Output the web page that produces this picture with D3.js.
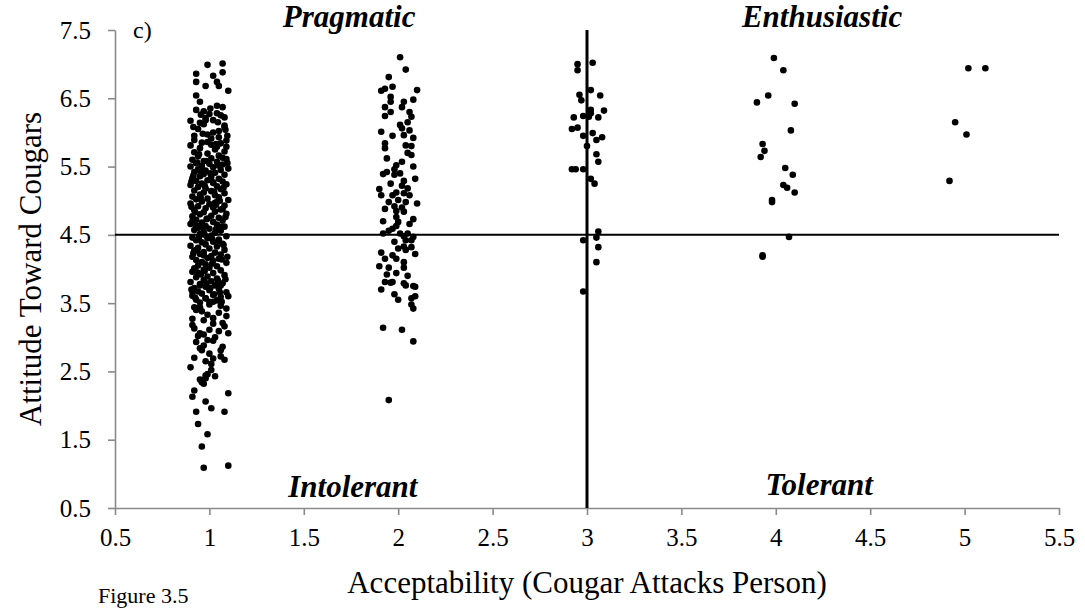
<!DOCTYPE html>
<html>
<head>
<meta charset="utf-8">
<script src="https://cdn.jsdelivr.net/npm/d3@7"></script>
<style>
  body { margin: 0; background: #fff; }
  text { font-family: "Liberation Serif", "Times New Roman", serif; fill: #000; }
</style>
</head>
<body>
<svg id="chart" width="1085" height="608"></svg>
<script>
// acceptability = 1 (jittered), attitude
const group1 = [
  [0.99,6.99],[1.07,7.01],[0.93,6.86],[1.02,6.83],[1.07,6.88],[0.93,6.74],[0.98,6.68],[1.04,6.74],
  [1.05,6.68],[1.10,6.61],[0.93,6.54],[0.95,6.45],[1.04,6.39],[1.07,6.37],[0.93,6.33],[0.97,6.31],
  [1.00,6.27],[1.06,6.25],[0.90,6.17],[0.95,6.14],[0.98,6.18],[1.02,6.18],[1.08,6.22],[0.92,5.95],
  [1.01,5.91],[1.05,6.02],[1.08,6.08],[0.90,5.81],[0.99,5.86],[1.06,5.84],[1.09,5.79],[1.04,5.79],
  [0.97,6.12],[1.08,6.10],[0.94,6.05],[1.02,6.00],[0.99,5.97],[1.05,5.93],[0.92,5.89],[1.09,5.88],
  [0.96,5.85],[1.01,5.82],[0.98,6.21],[1.04,6.28],
  [0.95,5.77],[1.03,5.75],[0.92,5.71],[1.08,5.72],[0.99,5.69],[1.05,5.66],[0.94,5.65],[1.01,5.62],
  [0.91,5.60],[1.09,5.61],[0.97,5.58],[1.04,5.57],[0.93,5.55],[1.07,5.53],[1.00,5.54],[0.96,5.51],
  [0.90,5.50],[1.02,5.49],[1.10,5.47],[0.94,5.46],[0.98,5.44],[1.06,5.45],[0.92,5.42],[1.03,5.41],
  [0.97,5.39],[1.08,5.38],[0.95,5.36],[1.01,5.35],[0.91,5.33],[1.05,5.32],[0.99,5.30],[0.93,5.29],
  [1.07,5.28],[1.02,5.26],[0.96,5.25],[0.90,5.23],[1.09,5.24],[1.04,5.21],[0.94,5.20],[0.98,5.18],
  [1.06,5.17],[0.92,5.15],[1.01,5.14],[0.97,5.12],[1.08,5.11],[0.95,5.09],[1.03,5.08],[0.91,5.06],
  [1.05,5.05],[0.99,5.03],[0.93,5.02],[1.10,5.01],[1.02,5.27],[0.95,5.44],[1.07,5.63],
  [0.96,4.99],[1.04,4.98],[0.90,4.96],[1.00,4.95],[1.08,4.93],[0.94,4.92],[1.02,4.90],[0.98,4.89],
  [1.06,4.87],[0.92,4.86],[1.03,4.84],[0.97,4.83],[1.09,4.81],[0.95,4.80],[1.01,4.78],[0.91,4.77],
  [1.05,4.75],[0.99,4.74],[0.93,4.72],[1.07,4.71],[1.02,4.69],[0.96,4.68],[0.90,4.66],[1.04,4.65],
  [0.98,4.63],[1.08,4.62],[0.94,4.60],[1.00,4.59],[0.92,4.57],[1.06,4.56],[0.97,4.54],[1.03,4.53],
  [0.95,4.51],[1.01,4.49],[1.09,4.48],[0.91,4.46],[0.99,4.45],[1.05,4.43],[0.93,4.42],[1.02,4.40],
  [0.96,4.39],[1.07,4.37],[0.98,4.36],[0.90,4.34],[1.04,4.33],[0.94,4.31],[1.00,4.30],[1.08,4.28],
  [0.92,4.27],[0.97,4.25],[1.03,4.24],[0.95,4.22],[1.06,4.21],[1.01,4.19],[0.91,4.18],[0.99,4.16],
  [1.05,4.15],[0.93,4.13],[1.02,4.12],[0.96,4.10],[1.09,4.09],[0.98,4.07],[0.94,4.05],[1.04,4.04],
  [1.00,4.02],[0.92,4.01],[1.07,4.88],[0.93,4.64],[1.05,4.41],[0.97,4.20],[1.03,4.97],[0.91,4.70],
  [0.97,3.99],[1.06,3.98],[0.91,3.96],[1.02,3.94],[0.95,3.93],[1.08,3.91],[0.99,3.89],[0.93,3.88],
  [1.04,3.86],[0.97,3.84],[1.01,3.82],[0.90,3.81],[1.07,3.79],[0.95,3.78],[1.03,3.76],[0.98,3.74],
  [0.92,3.72],[1.05,3.71],[1.00,3.69],[0.94,3.67],[1.09,3.66],[0.96,3.64],[1.02,3.62],[0.91,3.61],
  [1.06,3.59],[0.98,3.57],[0.93,3.55],[1.04,3.54],[1.00,3.52],[0.95,3.51],
  [0.95,3.76],[1.06,3.76],[0.91,3.67],[1.10,3.60],[0.98,3.57],[1.02,3.52],[0.92,3.44],[1.06,3.46],
  [0.95,3.44],[0.91,3.27],[0.97,3.25],[1.02,3.20],[1.09,3.31],[1.07,3.21],[0.92,3.13],[1.00,3.11],
  [1.10,3.06],[0.95,3.06],[0.93,2.93],[0.99,2.96],[1.02,2.95],[0.96,2.81],[1.00,2.76],[1.06,2.81],
  [1.08,2.67],[0.98,2.65],[1.01,2.61],[0.90,2.56],[0.98,2.44],[0.96,2.37],[1.03,2.43],[0.97,2.32],
  [0.93,3.40],[1.05,3.36],[0.99,3.33],[1.08,3.16],[0.94,3.02],[1.03,3.00],[0.97,2.88],[1.06,2.72],
  [0.92,2.70],[1.01,2.52],[0.98,2.40],[0.96,2.34],[1.00,3.48],[1.09,3.42],[0.96,3.38],[1.02,3.28],
  [0.91,3.18],[1.05,3.09],[0.97,3.04],[1.07,2.86],[0.95,2.84],[1.02,2.69],[0.99,2.46],[0.95,2.38],
  [0.91,2.13],[0.92,2.22],[0.98,2.06],[1.10,2.18],[0.93,1.91],[1.01,1.96],[1.08,1.91],[0.94,1.73],
  [0.99,1.58],[0.96,1.40],[0.97,1.09],[1.10,1.12],
  [0.985,5.58],[1.045,5.52],[0.915,5.37],[1.075,5.19],[0.955,5.04],[1.035,4.94],[0.925,4.83],[1.085,4.76],
  [0.965,4.61],[1.015,4.44],[0.935,4.29],[1.065,4.14],[0.975,3.97],[1.045,3.83],[0.905,3.70],[1.025,3.63],
  [0.945,5.68],[1.095,5.55],[1.005,5.40],[0.975,5.22],[1.055,5.00],[0.905,4.91],[0.985,4.73],[1.035,4.58],
  [0.945,4.47],[1.075,4.35],[0.915,4.23],[1.015,4.08],[0.955,3.92],[1.085,3.85],[0.985,3.79],[1.055,3.66],
  [0.925,3.58],[1.035,5.83],[0.965,5.98],[1.085,6.04],[0.915,6.08],[1.045,6.15],[1.005,6.35],[0.955,6.26],
  [1.095,5.95],[0.935,5.56],[1.025,5.13],[0.905,5.28],[1.065,4.62],[0.975,4.50],[1.095,4.18],[0.935,3.95],
  [1.005,3.72],[1.065,3.52]
];

// acceptability = 2
const group2 = [
  [2.01,7.10],[2.04,6.92],[1.95,6.81],[1.97,6.67],[1.91,6.61],[2.10,6.62],[1.93,6.64],[2.08,6.48],
  [1.96,6.45],[2.03,6.45],[1.93,6.37],[2.02,6.37],[1.93,6.24],[2.06,6.30],[2.07,6.23],[2.01,6.11],
  [2.02,6.06],[2.06,6.03],[1.91,6.01],[1.97,5.95],[2.03,5.96],[1.93,5.84],[2.04,5.81],[2.07,5.80],
  [1.93,5.77],[2.05,5.70],[2.07,5.67],[2.02,5.57],[1.99,5.52],[2.08,5.50],[1.98,5.46],[1.94,5.42],
  [1.92,5.39],[1.98,5.38],[2.03,5.29],[2.02,5.22],[2.05,5.18],[1.90,5.17],[1.99,5.12],[1.97,5.08],
  [2.03,5.11],[2.06,5.08],[1.91,5.08],[1.95,4.98],[2.00,5.01],[2.04,4.98],[2.10,4.96],[1.98,4.92],
  [2.02,4.90],[1.99,4.85],[1.99,4.76],[2.03,4.84],[2.08,4.73],[2.00,4.69],[1.99,4.63],[1.97,4.59],
  [1.95,4.56],[1.92,4.52],[2.01,4.52],[2.03,4.48],[2.05,4.52],[2.04,4.42],[2.07,4.42],[2.08,4.47],
  [2.03,4.33],[2.07,4.32],[2.04,4.28],[1.91,4.24],[1.97,4.20],[1.99,4.15],[1.93,4.15],[2.03,4.10],
  [1.90,4.04],[2.03,4.02],[1.94,3.92],[1.99,3.94],[1.93,3.81],[1.97,3.81],[2.03,3.79],[2.04,3.76],
  [2.08,3.75],[1.96,3.80],[2.09,3.74],[1.98,3.63],[2.07,3.57],[2.09,3.60],[2.07,3.48],[2.08,3.42],
  [1.92,3.14],[2.02,3.11],[2.08,2.94],[1.95,2.08],
  [1.96,6.30],[2.05,6.15],[1.94,5.62],[2.01,5.40],[1.96,5.25],[2.09,5.32],[1.93,4.88],[2.06,4.66],
  [1.98,4.40],[2.09,4.22],[1.95,4.02],[2.05,3.90],[1.91,3.70],[2.00,3.55],[1.96,6.52],[2.08,5.92],
  [1.92,4.70],[2.00,4.30]
];

// acceptability = 3
const group3 = [
  [2.95,7.00],[2.95,6.91],[3.03,7.02],[3.02,6.62],[2.96,6.55],[2.97,6.47],[3.07,6.54],[3.02,6.33],
  [3.09,6.32],[2.93,6.22],[2.98,6.24],[3.01,6.23],[3.02,6.28],[3.06,6.22],[2.92,6.05],[2.95,6.07],
  [3.03,5.99],[3.08,5.93],[2.98,5.95],[3.05,5.89],[3.00,5.80],[3.05,5.68],[3.06,5.57],[2.92,5.46],
  [2.94,5.46],[2.98,5.46],[3.02,5.32],[3.04,5.25],[3.06,4.55],[3.05,4.46],[2.98,4.42],[3.06,4.32],
  [3.05,4.10],[2.98,3.67]
];

// acceptability = 4
const group4 = [
  [3.99,7.09],[4.04,6.91],[3.96,6.54],[3.90,6.44],[4.10,6.42],[4.08,6.03],[3.93,5.83],[3.94,5.73],
  [3.92,5.64],[4.05,5.48],[4.09,5.38],[4.04,5.23],[4.06,5.19],[4.10,5.12],[3.98,5.01],[3.98,4.98],
  [4.07,4.47],[3.93,4.20],[3.93,4.18]
];

// acceptability = 5
const group5 = [
  [5.02,6.94],[5.11,6.94],[4.95,6.15],[5.01,5.97],[4.92,5.29]
];

const xTicks = [0.5, 1, 1.5, 2, 2.5, 3, 3.5, 4, 4.5, 5, 5.5];
const xTickLabels = ['0.5', '1', '1.5', '2', '2.5', '3', '3.5', '4', '4.5', '5', '5.5'];
const yTicks = [0.5, 1.5, 2.5, 3.5, 4.5, 5.5, 6.5, 7.5];
const yTickLabels = ['0.5', '1.5', '2.5', '3.5', '4.5', '5.5', '6.5', '7.5'];

const quadrants = [
  { label: 'Pragmatic', x: 1.74, y: 7.55 },
  { label: 'Enthusiastic', x: 4.245, y: 7.55 },
  { label: 'Intolerant', x: 1.76, y: 0.66 },
  { label: 'Tolerant', x: 4.23, y: 0.69 }
];

const splitX = 3;
const splitY = 4.5;

const margin = { left: 115, right: 26, top: 30, bottom: 100 };
const width = 1085, height = 608;

const svg = d3.select('#chart');
svg.append('rect').attr('width', width).attr('height', height).attr('fill', '#fff');

const x = d3.scaleLinear().domain([0.5, 5.5]).range([margin.left, width - margin.right]);
const y = d3.scaleLinear().domain([0.5, 7.5]).range([height - margin.bottom, margin.top]);

const axisColor = '#8a8a8a';

const xAxis = svg.append('g')
  .attr('transform', `translate(0,${y(0.5)})`)
  .call(d3.axisBottom(x).tickValues(xTicks).tickSize(7).tickSizeOuter(0).tickPadding(13)
    .tickFormat((d, i) => xTickLabels[i]));
xAxis.selectAll('text').style('font-size', '25px');

const yAxis = svg.append('g')
  .attr('transform', `translate(${x(0.5)},0)`)
  .call(d3.axisLeft(y).tickValues(yTicks).tickSize(7).tickSizeOuter(0).tickPadding(17)
    .tickFormat((d, i) => yTickLabels[i]));
yAxis.selectAll('text').style('font-size', '25px');

svg.selectAll('.domain, .tick line').attr('stroke', axisColor).attr('stroke-width', 1.6);

const all = [].concat(group1, group2, group3, group4, group5);
svg.append('g').selectAll('circle').data(all).enter()
  .append('circle')
  .attr('cx', d => x(d[0]))
  .attr('cy', d => y(d[1]))
  .attr('r', 3.3)
  .attr('fill', '#000');

svg.append('line')
  .attr('x1', x(0.5)).attr('x2', x(5.5))
  .attr('y1', y(splitY)).attr('y2', y(splitY))
  .attr('stroke', '#000').attr('stroke-width', 2);

svg.append('line')
  .attr('x1', x(splitX)).attr('x2', x(splitX))
  .attr('y1', y(0.5)).attr('y2', y(7.5))
  .attr('stroke', '#000').attr('stroke-width', 3);

svg.append('g').selectAll('text').data(quadrants).enter()
  .append('text')
  .attr('x', d => x(d.x))
  .attr('y', d => y(d.y))
  .attr('text-anchor', 'middle')
  .style('font-size', '31px')
  .style('font-weight', 'bold')
  .style('font-style', 'italic')
  .text(d => d.label);

svg.append('text')
  .attr('x', 133).attr('y', 38)
  .style('font-size', '24px')
  .text('c)');

svg.append('text')
  .attr('x', (x(0.5) + x(5.5)) / 2).attr('y', 593)
  .attr('text-anchor', 'middle')
  .style('font-size', '31px')
  .text('Acceptability (Cougar Attacks Person)');

svg.append('text')
  .attr('transform', `translate(41,${(y(0.5) + y(7.5)) / 2}) rotate(-90)`)
  .attr('text-anchor', 'middle')
  .style('font-size', '31px')
  .text('Attitude Toward Cougars');

svg.append('text')
  .attr('x', 98).attr('y', 603)
  .style('font-size', '22px')
  .text('Figure 3.5');
</script>
</body>
</html>
